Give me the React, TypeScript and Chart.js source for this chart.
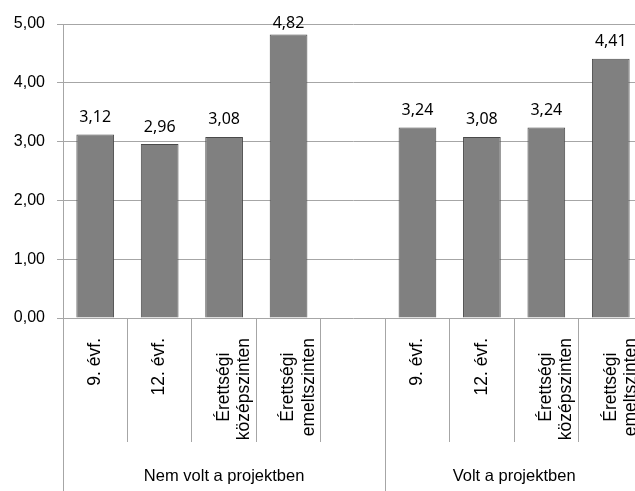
import React, { useEffect, useRef } from 'react';
import { Chart, registerables } from 'chart.js';

Chart.register(...registerables);

// ---- data ----
const categories: (string | string[])[] = [
  '9. évf.',
  '12. évf.',
  ['Érettségi   ', 'középszinten'],
  ['Érettségi   ', 'emeltszinten'],
  '',
  '9. évf.',
  '12. évf.',
  ['Érettségi   ', 'középszinten'],
  ['Érettségi   ', 'emeltszinten'],
];
const values: (number | null)[] = [3.12, 2.96, 3.08, 4.82, null, 3.24, 3.08, 3.24, 4.41];
const groups = ['Nem volt a projektben', 'Volt a projektben'];
const groupSpans = [5, 4];
const yMin = 0;
const yMax = 5;
const yStep = 1;

const GRID = '#a6a6a6';
const AXIS_FONT = "'Liberation Sans', Arial, sans-serif";
const LABEL_FONT = "'Noto Sans', 'Open Sans', sans-serif";

const fmt = (v: number) => v.toFixed(2).replace('.', ',');

// group tick positions on the secondary axis (in category index units)
const groupTicks: { value: number; label: string }[] = (() => {
  const out: { value: number; label: string }[] = [];
  let start = -0.5;
  groups.forEach((g, i) => {
    out.push({ value: start, label: '' });
    out.push({ value: start + groupSpans[i] / 2, label: g });
    start += groupSpans[i];
  });
  out.push({ value: start, label: '' });
  return out;
})();

const dataLabelPlugin = {
  id: 'dataLabels',
  afterDatasetsDraw(chart: any) {
    const ctx = chart.ctx;
    const meta = chart.getDatasetMeta(0);
    const ds = chart.data.datasets[0].data;
    ctx.save();
    ctx.font = `16px ${LABEL_FONT}`;
    ctx.fillStyle = '#000';
    ctx.textAlign = 'center';
    ctx.textBaseline = 'middle';
    meta.data.forEach((el: any, i: number) => {
      const v = ds[i];
      if (v === null || v === undefined) return;
      const y = Math.max(el.y - 17, chart.chartArea.top - 1);
      ctx.fillText(fmt(v), el.x, y);
    });
    ctx.restore();
  },
};

export default function App() {
  const ref = useRef<HTMLCanvasElement>(null);
  useEffect(() => {
    if (!ref.current) return;
    const chart = new Chart(ref.current, {
      type: 'bar',
      data: {
        labels: categories,
        datasets: [
          {
            data: values,
            backgroundColor: '#808080',
            borderColor: '#4a4a4a',
            borderWidth: 1,
            categoryPercentage: 1,
            barPercentage: 0.585,
          },
        ],
      },
      options: {
        responsive: false,
        animation: false,
        devicePixelRatio: 1,
        layout: { padding: { top: 24, right: 7, left: 0, bottom: 0 } },
        plugins: { legend: { display: false }, tooltip: { enabled: false } },
        scales: {
          x: {
            type: 'category',
            position: 'bottom',
            weight: 0,
            offset: true,
            grid: { offset: true, drawOnChartArea: false, drawTicks: true, tickLength: 124, color: GRID, lineWidth: 1 },
            border: { display: false },
            ticks: {
              autoSkip: false,
              minRotation: 90,
              maxRotation: 90,
              padding: -104,
              color: '#000',
              font: { family: AXIS_FONT, size: 17.5, lineHeight: 1.15 },
            },
            afterFit: (s: any) => {
              s.height = 124;
            },
          },
          x2: {
            type: 'linear',
            position: 'bottom',
            weight: 1,
            offset: false,
            min: -0.5,
            max: categories.length - 0.5,
            afterBuildTicks: (s: any) => {
              s.ticks = groupTicks.map((t) => ({ value: t.value }));
            },
            grid: {
              offset: false,
              drawOnChartArea: false,
              drawTicks: true,
              tickLength: 49,
              lineWidth: 1,
              color: (c: any) => {
                const t = groupTicks.find((g) => c.tick && g.value === c.tick.value);
                return t && t.label ? 'rgba(0,0,0,0)' : GRID;
              },
            },
            border: { display: false },
            ticks: {
              autoSkip: false,
              minRotation: 0,
              maxRotation: 0,
              padding: -24,
              color: '#000',
              font: { family: AXIS_FONT, size: 16.5 },
              callback: (v: any) => {
                const t = groupTicks.find((g) => g.value === v);
                return t ? t.label : '';
              },
            },
            afterFit: (s: any) => {
              s.height = 49;
            },
          },
          y: {
            min: yMin,
            max: yMax,
            ticks: {
              stepSize: yStep,
              padding: 12,
              color: '#000',
              font: { family: AXIS_FONT, size: 16 },
              callback: (v: any) => fmt(Number(v)),
            },
            grid: { color: GRID, lineWidth: 1, drawTicks: true, tickLength: 6 },
            border: { display: true, color: GRID, width: 1 },
            afterFit: (s: any) => {
              s.width = 63;
            },
          },
        },
      },
      plugins: [dataLabelPlugin],
    } as any);
    return () => chart.destroy();
  }, []);
  return (
    <div style={{ position: 'fixed', left: 0, top: 0, width: 635, height: 491, overflow: 'hidden', background: '#fff' }}>
      <canvas ref={ref} width={650} height={491} style={{ display: 'block' }} />
    </div>
  );
}
